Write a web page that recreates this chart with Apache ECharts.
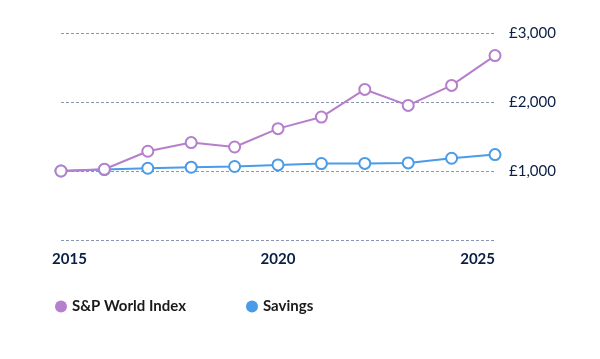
<!DOCTYPE html>
<html><head><meta charset="utf-8">
<script src="https://cdn.jsdelivr.net/npm/echarts@6/dist/echarts.min.js"></script>
<style>html,body{margin:0;padding:0;background:#fff}#c{width:600px;height:359px}</style>
</head><body><div id="c"></div>
<script>
const years = ['2015','2016','2017','2018','2019','2020','2021','2022','2023','2024','2025'];
const spWorld = [1000, 1025, 1286, 1412, 1348, 1614, 1782, 2182, 1951, 2240, 2673];
const savings = [1000, 1020, 1040, 1055, 1065, 1088, 1108, 1110, 1117, 1185, 1238];
const yTicks = [0, 1000, 2000, 3000];

const font = 'Lato, "Noto Sans", sans-serif';
const purple = '#b57fcc', blue = '#4a9be8';
const chart = echarts.init(document.getElementById('c'), null, {renderer: 'canvas'});
chart.setOption({
  animation: false,
  textStyle: {fontFamily: font},
  grid: {left: 61, right: 105, top: 33, bottom: 119},
  legend: {
    left: 50, top: 294, icon: 'circle', itemWidth: 12, itemHeight: 12, itemGap: 60,
    textStyle: {fontSize: 15, fontWeight: 'bold', color: '#1a1a1a', fontFamily: font},
    data: [
      {name: 'S&P World Index', itemStyle: {color: purple, borderWidth: 0}},
      {name: 'Savings', itemStyle: {color: blue, borderWidth: 0}}
    ]
  },
  xAxis: {
    type: 'category', data: years, boundaryGap: false,
    axisLine: {show: false}, axisTick: {show: false},
    axisLabel: {
      interval: 4, margin: 12, fontSize: 15, fontWeight: 'bold', color: '#0b1f45',
      formatter: function (v, i) { return i === 0 ? '{a|' + v + '}' : v; },
      rich: {a: {padding: [0, 0, 0, 17], fontSize: 15, fontWeight: 'bold', color: '#0b1f45'}},
      alignMaxLabel: 'right'
    }
  },
  yAxis: {
    type: 'value', position: 'right', min: yTicks[0], max: yTicks[yTicks.length - 1], interval: 1000,
    axisLine: {show: false}, axisTick: {show: false},
    splitLine: {lineStyle: {type: [3, 2], color: '#8a96b4', width: 1}},
    axisLabel: {
      margin: 14, fontSize: 15, color: '#0b1f45',
      formatter: function (v) { return v === 0 ? '' : '£' + v.toLocaleString('en-GB'); }
    }
  },
  series: [
    {name: 'S&P World Index', type: 'line', data: spWorld,
      symbol: 'circle', symbolSize: 11, lineStyle: {width: 2, color: purple},
      itemStyle: {color: '#fff', borderColor: purple, borderWidth: 2}, z: 3},
    {name: 'Savings', type: 'line', data: savings,
      symbol: 'circle', symbolSize: 11, lineStyle: {width: 2, color: blue},
      itemStyle: {color: '#fff', borderColor: blue, borderWidth: 2}, z: 2}
  ]
});
</script></body></html>
